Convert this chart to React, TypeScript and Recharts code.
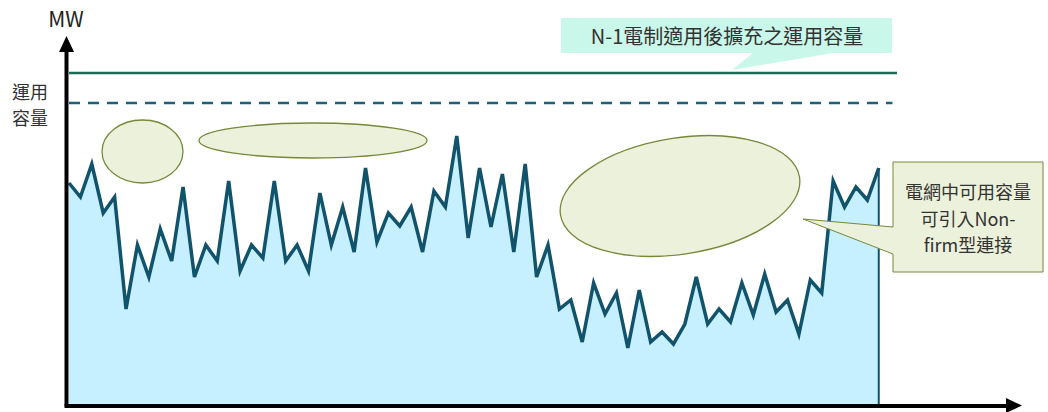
import { ComposedChart, Area, XAxis, YAxis, ReferenceLine } from "recharts"

// MW readings, one per sample interval
const mwValues = [
  222, 208, 241, 192, 208, 96, 160, 128, 176, 144, 218, 128, 160, 144, 224, 134, 160, 147,
  224, 144, 160, 134, 212, 160, 198, 153, 237, 163, 192, 179, 198, 153, 214, 198, 269, 167,
  237, 178, 231, 153, 241, 128, 160, 96, 105, 63, 122, 91, 112, 57, 115, 63, 73, 61, 81,
  128, 81, 96, 83, 122, 90, 131, 93, 105, 71, 125, 112, 224, 198, 218, 205, 237,
]

const expandedCapacity = 332 // N-1 電制適用後擴充之運用容量
const operatingCapacity = 302 // 運用容量

const yLabel = "MW"
const capacityLabel = ["運用", "容量"]
const topNote = "N-1電制適用後擴充之運用容量"
const sideNote = ["電網中可用容量", "可引入Non-", "firm型連接"]

const data = mwValues.map((mw, i) => ({ i, mw }))
const lastIdx = mwValues.length - 1

const font = "'Noto Sans CJK TC', 'Noto Sans', sans-serif"
const ellipseFill = "#ebf1da"
const ellipseStroke = "#76883a"

export default function App() {
  return (
    <div style={{ position: "absolute", left: 0, top: 0, width: 1048, height: 412, background: "#fff" }}>
      <ComposedChart width={1048} height={412} data={data} margin={{ top: 40, right: 151, left: 69, bottom: 7 }}>
        <XAxis dataKey="i" type="number" domain={[0, 72.6]} hide />
        <YAxis domain={[0, 365]} hide />
        <Area
          type="linear"
          dataKey="mw"
          fill="#c6efff"
          fillOpacity={1}
          stroke="#12536c"
          strokeWidth={3.5}
          isAnimationActive={false}
        />
        <ReferenceLine
          segment={[
            { x: lastIdx, y: 0 },
            { x: lastIdx, y: mwValues[lastIdx] },
          ]}
          stroke="#12536c"
          strokeWidth={2}
        />
        <ReferenceLine y={expandedCapacity} stroke="#1b6b55" strokeWidth={2.5} />
        <ReferenceLine
          segment={[
            { x: 0, y: operatingCapacity },
            { x: 72.2, y: operatingCapacity },
          ]}
          stroke="#1f5f78"
          strokeWidth={2.5}
          strokeDasharray="11 8"
        />
      </ComposedChart>

      <svg width={1048} height={412} style={{ position: "absolute", left: 0, top: 0, pointerEvents: "none" }}>
        {/* axes with arrows */}
        <line x1={66.5} y1={406} x2={66.5} y2={50} stroke="#000" strokeWidth={4} />
        <polygon points="59,52 74,52 66.5,36" fill="#000" />
        <line x1={64.5} y1={406} x2={1008} y2={406} stroke="#000" strokeWidth={4} />
        <polygon points="1006,398 1006,413 1022,405.5" fill="#000" />

        <text x={66} y={27} textAnchor="middle" fontFamily={font} fontSize={21} fill="#222">
          {yLabel}
        </text>
        <text x={30} y={99} textAnchor="middle" fontFamily={font} fontSize={18} fill="#333">
          {capacityLabel[0]}
        </text>
        <text x={30} y={125} textAnchor="middle" fontFamily={font} fontSize={18} fill="#333">
          {capacityLabel[1]}
        </text>

        {/* highlighted headroom areas */}
        <ellipse cx={142.5} cy={151.5} rx={40.5} ry={31.5} fill={ellipseFill} stroke={ellipseStroke} strokeWidth={1.3} />
        <ellipse cx={313} cy={140.5} rx={114} ry={17.5} fill={ellipseFill} stroke={ellipseStroke} strokeWidth={1.3} />
        <ellipse
          cx={680}
          cy={196}
          rx={121}
          ry={58}
          transform="rotate(-9 680 196)"
          fill={ellipseFill}
          stroke={ellipseStroke}
          strokeWidth={1.3}
        />

        {/* top callout */}
        <path d="M561,18 H892 V53 H833 L732,70 L753,53 H561 Z" fill="#c9f7e9" />
        <text x={727} y={44} textAnchor="middle" fontFamily={font} fontSize={20} fill="#333">
          {topNote}
        </text>

        {/* right callout */}
        <path
          d="M893,162 H1043 V272 H893 V254 L803,219 L893,227 Z"
          fill={ellipseFill}
          stroke={ellipseStroke}
          strokeWidth={1}
        />
        {sideNote.map((t, k) => (
          <text key={k} x={968} y={199 + k * 26.5} textAnchor="middle" fontFamily={font} fontSize={18} fill="#333">
            {t}
          </text>
        ))}
      </svg>
    </div>
  )
}
